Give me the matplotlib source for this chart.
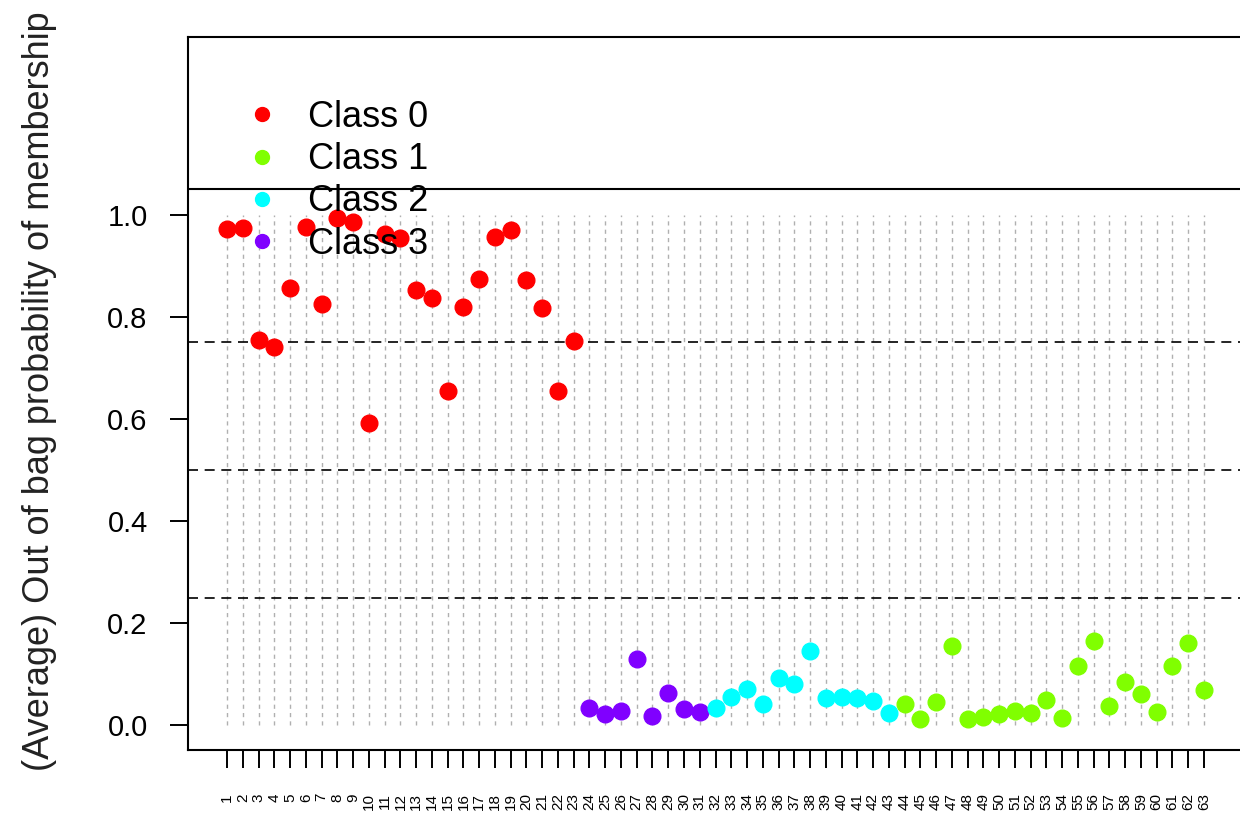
import matplotlib
matplotlib.use("Agg")
import matplotlib.pyplot as plt
from matplotlib.lines import Line2D

plt.rcParams['font.family'] = ['Liberation Sans', 'DejaVu Sans']

# out of bag membership probability per sample, grouped by class
class0 = [0.972, 0.975, 0.755, 0.741, 0.857, 0.976, 0.825, 0.994, 0.986, 0.592,
          0.962, 0.954, 0.853, 0.838, 0.654, 0.819, 0.875, 0.957, 0.970, 0.872,
          0.818, 0.654, 0.752]
class3 = [0.033, 0.022, 0.027, 0.130, 0.018, 0.062, 0.031, 0.025]
class2 = [0.034, 0.055, 0.070, 0.042, 0.092, 0.080, 0.146, 0.053, 0.054, 0.052,
          0.048, 0.024]
class1 = [0.041, 0.011, 0.045, 0.155, 0.012, 0.016, 0.021, 0.027, 0.024, 0.049,
          0.014, 0.116, 0.165, 0.037, 0.084, 0.061, 0.025, 0.116, 0.161, 0.068]

class_names = ['Class 0', 'Class 1', 'Class 2', 'Class 3']
class_cols = ['#FF0000', '#80FF00', '#00FFFF', '#8000FF']   # rainbow(4)
hlines_dashed = [0.25, 0.5, 0.75]
hline_top = 1.05

# plotting order along x: class 0, then 3, 2, 1
groups = [(class0, class_cols[0]), (class3, class_cols[3]),
          (class2, class_cols[2]), (class1, class_cols[1])]
n = sum(len(g) for g, c in groups)
xs = list(range(1, n + 1))

fig = plt.figure(figsize=(12.4, 8.23), dpi=100)
ax = fig.add_axes([188 / 1240, 73 / 823, 1055 / 1240, 713 / 823])

ax.vlines(xs, 0, 1, colors='#b0b0b0', linestyles=(0, (3, 3)), lw=1.0, zorder=1)
for h in hlines_dashed:
    ax.axhline(h, color='black', lw=1.2, ls=(0, (6, 4)), zorder=2)
ax.axhline(hline_top, color='black', lw=1.5, zorder=2)

start = 1
for vals, col in groups:
    xx = list(range(start, start + len(vals)))
    ax.plot(xx, vals, 'o', color=col, ms=12, mec=col, zorder=3)
    start += len(vals)

ax.set_xlim(-1.48, n + 2.48)
ax.set_ylim(-0.049, 1.349)

ax.set_yticks([0.0, 0.2, 0.4, 0.6, 0.8, 1.0])
ax.set_yticklabels(['0.0', '0.2', '0.4', '0.6', '0.8', '1.0'], fontsize=21)
ax.set_xticks(xs)
ax.set_xticklabels([str(i) for i in xs], rotation=90, fontsize=11)
ax.tick_params(axis='y', length=13, width=1.4, pad=16)
ax.tick_params(axis='x', length=13, width=1.4, pad=18)
for s in ax.spines.values():
    s.set_linewidth(1.5)

fig.text(40 / 1240, (823 - 391) / 823, '(Average) Out of bag probability of membership',
         rotation=90, ha='center', va='center', fontsize=26, color='#222222')

handles = [Line2D([], [], ls='none', marker='o', ms=10, color=c) for c in class_cols]
ax.legend(handles, class_names, loc='upper left', bbox_to_anchor=(0.036, 0.932),
          frameon=False, fontsize=26, labelspacing=0.2, handletextpad=0.68,
          handlelength=1.2, borderaxespad=0)

fig.savefig('out.png', dpi=100)
